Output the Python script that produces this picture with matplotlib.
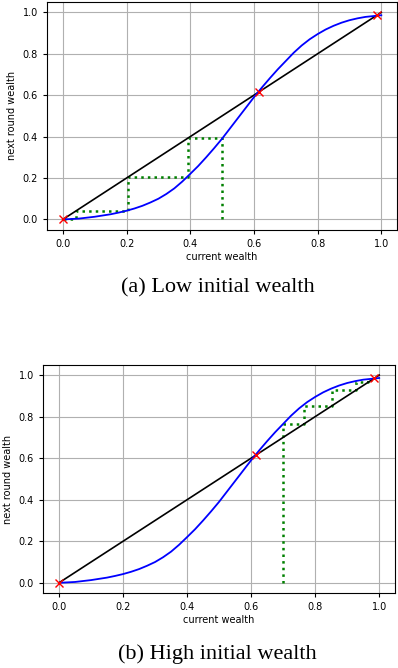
import matplotlib
matplotlib.use("Agg")
import matplotlib.pyplot as plt
import numpy as np

# curve: next round wealth as a function of current wealth
wealth_x = [0.0, 0.05, 0.1, 0.125, 0.15, 0.175, 0.2, 0.225, 0.25, 0.275, 0.3,
            0.325, 0.35, 0.375, 0.4, 0.425, 0.45, 0.475, 0.5, 0.525, 0.55,
            0.575, 0.6, 0.625, 0.65, 0.675, 0.7, 0.725, 0.75, 0.775, 0.8,
            0.825, 0.85, 0.875, 0.9, 0.925, 0.95, 1.0]
wealth_y = [0.0, 0.004, 0.013, 0.019, 0.025, 0.033, 0.042, 0.053, 0.066, 0.082, 0.10,
            0.123, 0.15, 0.183, 0.22, 0.258, 0.30, 0.344, 0.39, 0.44, 0.49,
            0.54, 0.59, 0.637, 0.682, 0.725, 0.765, 0.805, 0.84, 0.87, 0.895,
            0.917, 0.935, 0.95, 0.962, 0.971, 0.978, 0.986]

# fixed points
fixed_pts = [0.0, 0.615, 0.985]

# cobweb iterates
iter_low = [0.5, 0.394, 0.206, 0.042, 0.004]
iter_high = [0.7, 0.765, 0.853, 0.928, 0.965, 0.978]

captions = ["(a) Low initial wealth", "(b) High initial wealth"]


def cobweb(vals):
    xs = [vals[0]]
    ys = [0.0]
    for i in range(len(vals) - 1):
        xs += [vals[i], vals[i + 1]]
        ys += [vals[i + 1], vals[i + 1]]
    return xs, ys


fig = plt.figure(figsize=(3.98, 6.68), dpi=100)
ax1 = fig.add_axes([0.118, 0.656, 0.880, 0.341])
ax2 = fig.add_axes([0.108, 0.112, 0.885, 0.342])

for ax, it in [(ax1, iter_low), (ax2, iter_high)]:
    ax.plot([0, 1], [0, 1], color="black", linewidth=1.2, zorder=3)
    ax.plot(wealth_x, wealth_y, color="blue", linewidth=1.3, zorder=4)
    cx, cy = cobweb(it)
    ax.plot(cx, cy, color="green", linestyle=":", linewidth=1.8, zorder=2)
    ax.plot(fixed_pts, fixed_pts, "rx", markersize=6, zorder=5)
    ax.set_xlim(-0.05, 1.05)
    ax.set_ylim(-0.05, 1.05)
    ax.set_xticks(np.arange(0, 1.01, 0.2))
    ax.set_yticks(np.arange(0, 1.01, 0.2))
    ax.grid(color="#b0b0b0", linewidth=0.8)
    ax.set_axisbelow(True)
    ax.tick_params(labelsize=7, length=3)
    ax.set_xlabel("current wealth", fontsize=7, labelpad=2)
    ax.set_ylabel("next round wealth", fontsize=7, labelpad=4)

fig.text(0.548, 0.569, captions[0], ha="center", va="center",
         family="Liberation Serif", fontsize=16)
fig.text(0.545, 0.021, captions[1], ha="center", va="center",
         family="Liberation Serif", fontsize=16)

fig.savefig("out.png", dpi=100)
